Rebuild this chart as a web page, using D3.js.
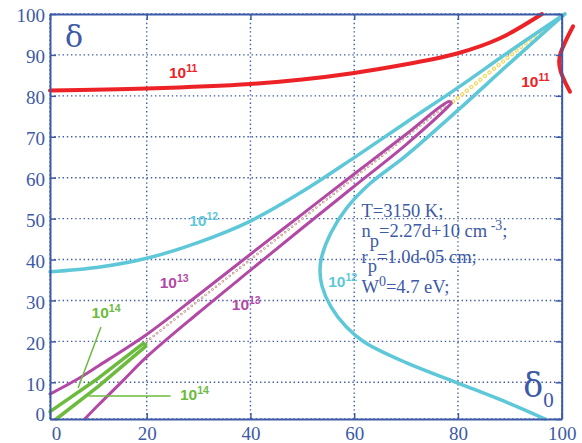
<!DOCTYPE html>
<html>
<head>
<meta charset="utf-8">
<script src="https://cdn.jsdelivr.net/npm/d3@7.9.0/dist/d3.min.js"></script>
<style>
  body { margin: 0; background: #fff; }
  svg { display: block; }
  .lbl { font-family: "Liberation Sans", Arial, sans-serif; font-weight: bold; }
  .note { font-family: "Liberation Serif", "Times New Roman", serif; font-size: 18.5px; fill: #3d5aa6; }
</style>
</head>
<body>
<svg id="chart" width="582" height="443"></svg>
<script>
// ticks
const xTicks = [0, 20, 40, 60, 80, 100];
const yTicks = [0, 10, 20, 30, 40, 50, 60, 70, 80, 90, 100];

// 10^11 curve (red) and its piece on the right edge
const red11 = [[0, 81.3], [20, 81.8], [40, 82.9], [50, 84], [60, 85.6], [70, 87.7], [80, 90.4], [88, 94], [96.2, 100]];
const red11Edge = [[102.2, 97], [100.8, 93.5], [99.8, 90.5], [99.5, 88.3], [99.8, 86], [100.6, 83.5], [101.6, 81]];

// 10^12 curves (cyan)
const cyan12Upper = [[0, 37], [10, 38.1], [20, 40.3], [30, 44.2], [40, 49.4], [50, 56.6], [60, 64.9], [70, 73.5], [80, 82], [90, 90.9], [100.6, 100]];
const cyan12Lower = [[100.6, 100], [90, 88], [80, 76.5], [70, 65.4], [63, 58.5], [58.5, 52.5], [55.5, 46.5], [53.8, 41],
  [53.4, 37.5], [53.8, 33.5], [55.5, 28.5], [58.5, 23.5], [62, 19.8], [70, 14.8], [80, 9.8], [90, 4.2], [96.8, 0]];

// 10^13 loop (magenta): upper side, tip, lower side
const mag13Upper = [[0, 6.8], [5, 10.3], [10, 14], [20, 21.7], [30, 31.4], [40, 41.3], [50, 51.1], [60, 60.9], [70, 70.6], [78.3, 78.6]];
const mag13Lower = [[7.2, 0], [10, 3.8], [15, 10.3], [20, 16.2], [30, 27], [40, 37.4], [50, 47.7], [60, 57.9], [70, 68.1], [78.3, 77.6]];
const mag13Tip = [[78.7, 78.2]];

// 10^14 loop (green)
const green14Upper = [[0, 2.0], [10, 11.0], [19.3, 19.5]];
const green14Lower = [[1.3, 0], [10, 8.9], [19.6, 18.6]];
const green14Tip = [[19.8, 19.1]];

// dotted diagonals
const brownDiag = [[20, 20], [78, 78]];
const yellowDiag = [[79.1, 78.6], [97.1, 97]];

// leader lines for the 10^14 labels
const leader1 = [[10.5, 23.4], [5.85, 8.6]];
const leader2 = [[8.1, 6.3], [24.5, 6.3]];

const red = '#ec2227', cyan = '#5ec8d8', magenta = '#b249a5', green = '#6cbb3e', blue = '#3d5aa6';
const serif = '"Liberation Serif", "Times New Roman", serif';

const curveLabels = [
  { exp: '11', at: [24.3, 84.4], color: red },
  { exp: '11', at: [92.2, 82.2], color: red },
  { exp: '12', at: [28.2, 48.2], color: cyan },
  { exp: '12', at: [55, 33.4], color: cyan },
  { exp: '13', at: [22.5, 33], color: magenta },
  { exp: '13', at: [36.4, 27.7], color: magenta },
  { exp: '14', at: [8.6, 25.6], color: green },
  { exp: '14', at: [26.4, 5.2], color: green }
];

const svg = d3.select('#chart');

// the scanned frame is a bit squeezed near the origin, so the scales are piecewise
const x = d3.scaleLinear().domain([0, 20, 100]).range([50, 146.7, 561.7]);
const y = d3.scaleLinear().domain([0, 10, 100]).range([419, 382.3, 14]);

// dotted grid
const grid = svg.append('g').attr('stroke', blue).attr('stroke-width', 1.4).attr('stroke-dasharray', '1.4,2.8');
grid.selectAll('.gx').data(xTicks).enter().append('line')
  .attr('x1', d => x(d)).attr('x2', d => x(d)).attr('y1', y(0)).attr('y2', y(100));
grid.selectAll('.gy').data(yTicks).enter().append('line')
  .attr('y1', d => y(d)).attr('y2', d => y(d)).attr('x1', x(0)).attr('x2', x(100));

const line = d3.line().x(d => x(d[0])).y(d => y(d[1])).curve(d3.curveCatmullRom.alpha(0.5));
const straight = d3.line().x(d => x(d[0])).y(d => y(d[1]));

function draw(pts, color, w, gen = line) {
  svg.append('path').attr('d', gen(pts)).attr('fill', 'none')
    .attr('stroke', color).attr('stroke-width', w)
    .attr('stroke-linejoin', 'round').attr('stroke-linecap', 'round');
}

// dotted diagonals as small hollow dots
function dots(pts, color, size, gap) {
  svg.append('path').attr('d', straight(pts)).attr('fill', 'none')
    .attr('stroke', color).attr('stroke-width', size)
    .attr('stroke-linecap', 'round').attr('stroke-dasharray', `0.01,${gap}`);
  svg.append('path').attr('d', straight(pts)).attr('fill', 'none')
    .attr('stroke', '#fff').attr('stroke-width', size * 0.45)
    .attr('stroke-linecap', 'round').attr('stroke-dasharray', `0.01,${gap}`);
}

dots(brownDiag, '#c09088', 2.6, 4.4);
dots(yellowDiag, '#f2d65a', 4.2, 5.8);

draw(red11, red, 4);
draw(red11Edge, red, 4);
draw(cyan12Upper, cyan, 3.5);
draw(cyan12Lower, cyan, 3.5);
draw(mag13Upper.concat(mag13Tip, mag13Lower.slice().reverse()), magenta, 3);
draw(green14Upper.concat(green14Tip, green14Lower.slice().reverse()), green, 3.5, straight);
draw(leader1, green, 1.5, straight);
draw(leader2, green, 1.5, straight);

// curve labels 10^n
curveLabels.forEach(l => {
  const t = svg.append('text').attr('class', 'lbl').attr('fill', l.color)
    .attr('x', x(l.at[0])).attr('y', y(l.at[1])).attr('font-size', 15.5);
  t.append('tspan').text('10');
  t.append('tspan').attr('font-size', 10.5).attr('dy', -6).text(l.exp);
});

// parameters block
const ax = x(61.4), ay = y(50.4);
const note = svg.append('g').attr('class', 'note').attr('transform', `translate(${ax},${ay})`);
note.append('text').text('T=3150 K;');
let t = note.append('text').attr('y', 19.7);
t.append('tspan').text('n');
t.append('tspan').attr('dy', 10).attr('dx', -1).text('p');
t.append('tspan').attr('dy', -10).text('=2.27d+10 cm');
t.append('tspan').attr('dy', -7).attr('font-size', 14).text(' -3');
t.append('tspan').attr('dy', 7).text(';');
t = note.append('text').attr('y', 46);
t.append('tspan').text('r');
t.append('tspan').attr('dy', 9).text('p');
t.append('tspan').attr('dy', -9).text('=1.0d-05 cm;');
t = note.append('text').attr('y', 76);
t.append('tspan').text('W');
t.append('tspan').attr('dy', -7).attr('font-size', 14).text('0');
t.append('tspan').attr('dy', 7).text('=4.7 eV;');

// axis symbols
svg.append('text').attr('x', x(3.1)).attr('y', y(91.9))
  .attr('font-family', '"DejaVu Serif", serif').attr('font-size', 30).attr('fill', blue).text('δ');
const d0 = svg.append('text').attr('x', x(92.6)).attr('y', y(6.1))
  .attr('font-family', '"DejaVu Serif", serif').attr('font-size', 33).attr('fill', blue);
d0.append('tspan').text('δ');
d0.append('tspan').attr('font-family', serif).attr('font-size', 21).attr('dy', 10).text('0');

// frame with inward ticks
function frame(g) {
  g.attr('color', blue).attr('font-family', serif).attr('font-size', 19);
  g.select('.domain').attr('stroke-width', 2);
  g.selectAll('.tick line').attr('stroke-width', 1.5);
  g.selectAll('.tick text').style('font-family', serif).style('font-size', '19px').attr('fill', blue);
}
const gl = svg.append('g').attr('transform', `translate(${x(0)},0)`)
  .call(d3.axisLeft(y).tickValues(yTicks).tickSize(-6).tickSizeOuter(0).tickPadding(5)).call(frame);
gl.selectAll('.tick text').attr('dy', '0.42em');
gl.selectAll('.tick text').filter(d => d === 0).attr('dy', '0.08em');
const gb = svg.append('g').attr('transform', `translate(0,${y(0)})`)
  .call(d3.axisBottom(x).tickValues(xTicks).tickSize(-6).tickSizeOuter(0).tickPadding(8)).call(frame);
gb.selectAll('.tick text').filter(d => d === 0).attr('dx', 6);
svg.append('g').attr('transform', `translate(${x(100)},0)`)
  .call(d3.axisRight(y).tickValues(yTicks).tickSize(-6).tickSizeOuter(0).tickFormat('')).call(frame);
svg.append('g').attr('transform', `translate(0,${y(100)})`)
  .call(d3.axisTop(x).tickValues(xTicks).tickSize(-6).tickSizeOuter(0).tickFormat('')).call(frame);
svg.selectAll('.domain').attr('fill', 'none');
</script>
</body>
</html>
